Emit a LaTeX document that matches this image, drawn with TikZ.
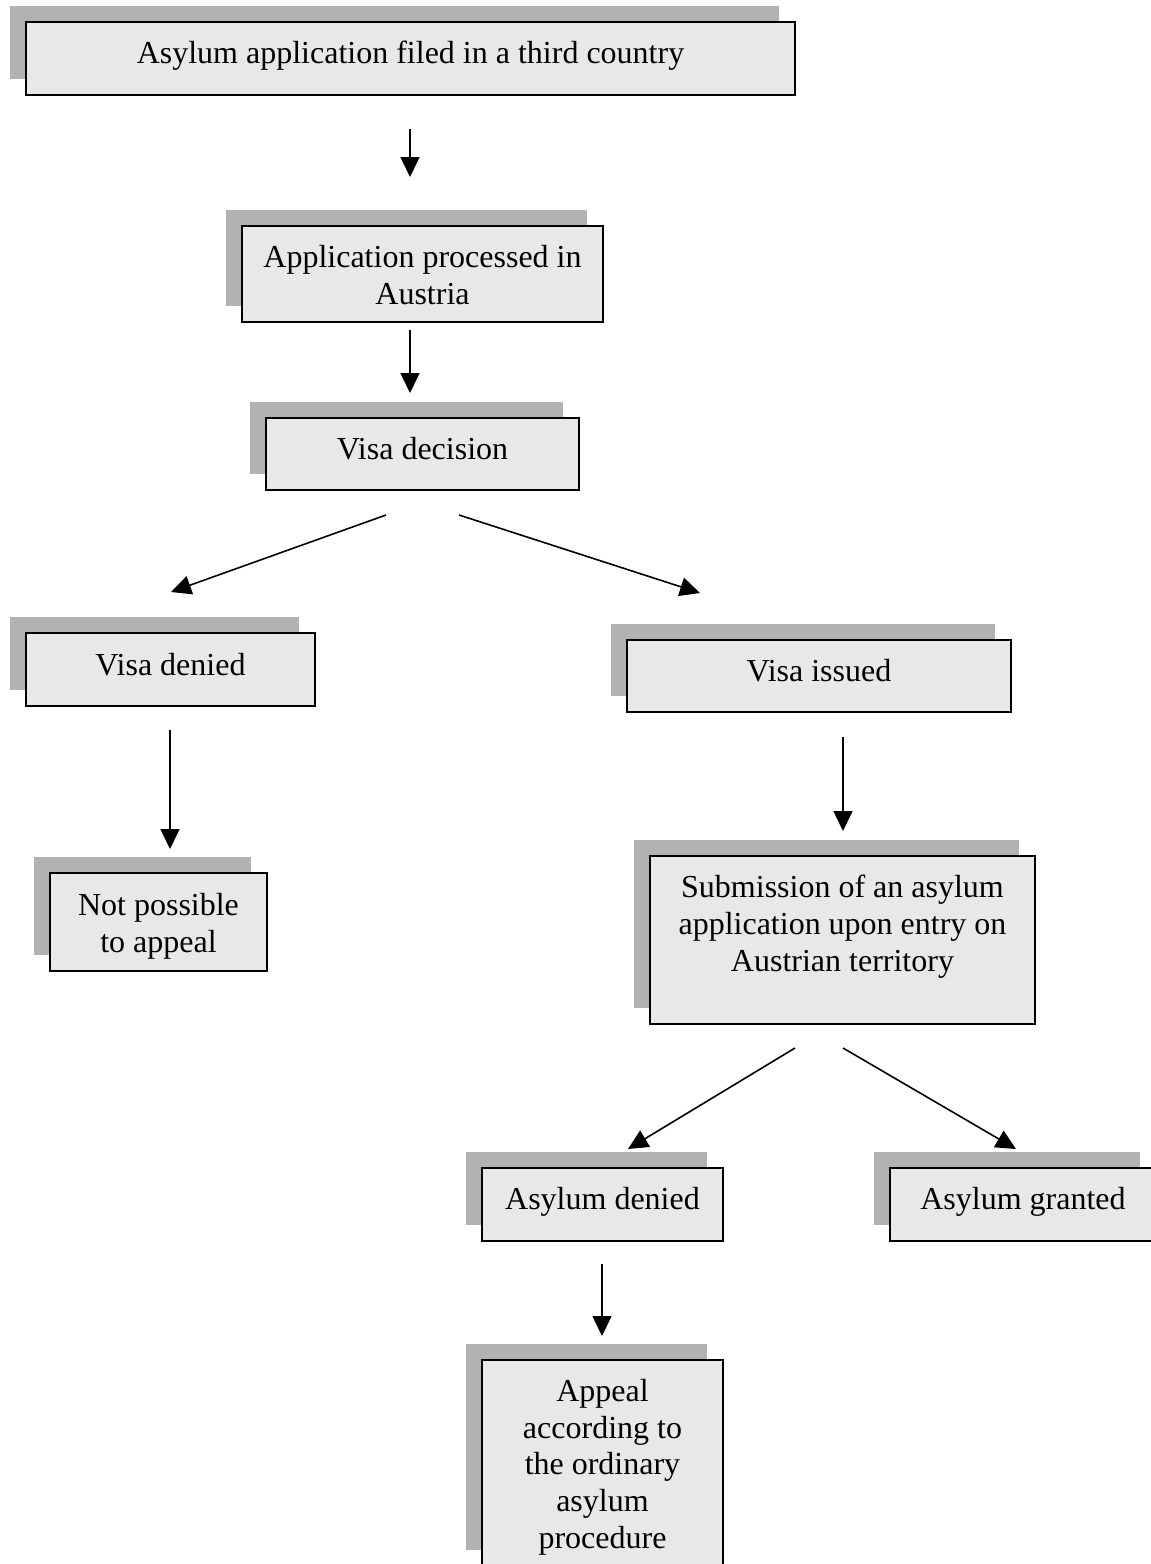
\documentclass[tikz,border=0pt]{standalone}
\usepackage{fontspec}
\setmainfont{Liberation Serif}
\usetikzlibrary{arrows.meta,shadows}
\definecolor{shadowgray}{RGB}{178,178,178}
\definecolor{boxfill}{RGB}{232,232,232}
\tikzset{
  box/.style={draw=black, line width=1.6pt, fill=boxfill, inner sep=0pt,
    general shadow={fill=shadowgray, draw=none, shadow xshift=-16pt, shadow yshift=16pt}},
  txt/.style={anchor=north, inner sep=0pt, align=center,
    font=\fontsize{32pt}{36.6pt}\selectfont},
  arr/.style={line width=1.6pt, -{Triangle[length=20pt, width=19pt]}}
}
\begin{document}
\begin{tikzpicture}[x=1pt, y=-1pt]
\useasboundingbox (0,0) rectangle (1151,1564);
% boxes
\node[box, minimum width=769pt, minimum height=73pt] (b1) at (410.5,58.5) {};
\node[box, minimum width=361pt, minimum height=96pt] (b2) at (422.5,274) {};
\node[box, minimum width=313pt, minimum height=72pt] (b3) at (422.5,454) {};
\node[box, minimum width=289pt, minimum height=73pt] (b4) at (170.5,669.5) {};
\node[box, minimum width=384pt, minimum height=72pt] (b5) at (819,676) {};
\node[box, minimum width=217pt, minimum height=98pt] (b6) at (158.5,922) {};
\node[box, minimum width=385pt, minimum height=168pt] (b7) at (842.5,940) {};
\node[box, minimum width=241pt, minimum height=73pt] (b8) at (602.5,1204.5) {};
\node[box, minimum width=266pt, minimum height=73pt] (b9) at (1023,1204.5) {};
\node[box, minimum width=241pt, minimum height=206pt] (b10) at (602.5,1463) {};
% texts
\node[txt] (t1) at ([yshift=-20pt]b1.north) {Asylum application filed in a third country};
\node[txt] (t2) at ([yshift=-20pt]b2.north) {Application processed in\\Austria};
\node[txt] (t3) at ([yshift=-20pt]b3.north) {Visa decision};
\node[txt] (t4) at ([yshift=-21pt]b4.north) {Visa denied};
\node[txt] (t5) at ([yshift=-20pt]b5.north) {Visa issued};
\node[txt] (t6) at ([yshift=-21pt]b6.north) {Not possible\\to appeal};
\node[txt] (t7) at ([yshift=-20pt]b7.north) {Submission of an asylum\\application upon entry on\\Austrian territory};
\node[txt] (t8) at ([yshift=-20pt]b8.north) {Asylum denied};
\node[txt] (t9) at ([yshift=-20pt]b9.north) {Asylum granted};
\node[txt] (t10) at ([yshift=-20pt]b10.north) {Appeal\\according to\\the ordinary\\asylum\\procedure};
% connector end points
\coordinate (a1s) at (410,129);  \coordinate (a1e) at (410,177);
\coordinate (a2s) at (410,330);  \coordinate (a2e) at (410,393);
\coordinate (a3s) at (386,515);  \coordinate (a3e) at (171,592);
\coordinate (a4s) at (459,515);  \coordinate (a4e) at (700,593);
\coordinate (a5s) at (170,730);  \coordinate (a5e) at (170,849);
\coordinate (a6s) at (843,737);  \coordinate (a6e) at (843,831);
\coordinate (a7s) at (795,1048); \coordinate (a7e) at (628,1149);
\coordinate (a8s) at (843,1048); \coordinate (a8e) at (1016,1149);
\coordinate (a9s) at (602,1264); \coordinate (a9e) at (602,1336);
% connectors
\draw[arr] (a1s) -- (a1e);
\draw[arr] (a2s) -- (a2e);
\draw[arr] (a3s) -- (a3e);
\draw[arr] (a4s) -- (a4e);
\draw[arr] (a5s) -- (a5e);
\draw[arr] (a6s) -- (a6e);
\draw[arr] (a7s) -- (a7e);
\draw[arr] (a8s) -- (a8e);
\draw[arr] (a9s) -- (a9e);
\end{tikzpicture}
\end{document}
